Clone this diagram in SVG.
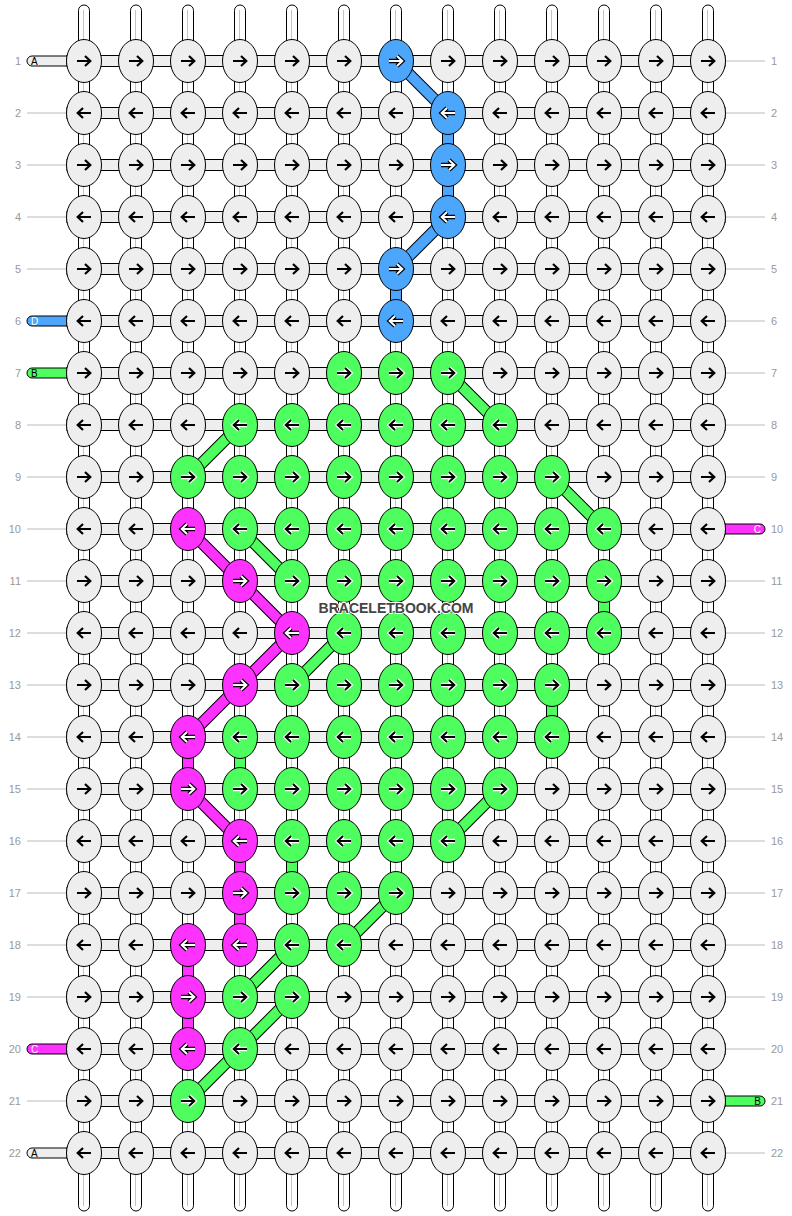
<svg xmlns="http://www.w3.org/2000/svg" xmlns:xlink="http://www.w3.org/1999/xlink" width="792" height="1216" viewBox="0 0 792 1216">
<style>
.vs{fill:#fff;stroke:#000;stroke-width:1}
.vl{stroke:#c4c4c4;stroke-width:1}
.hs{fill:#eee;stroke:#000;stroke-width:1}
ellipse{stroke:#000;stroke-width:1}
.g{fill:#eeeeee}.b{fill:#4ca6fb}.n{fill:#4efe5e}.m{fill:#fe32fe}
.num{font-family:"Liberation Sans",Arial,sans-serif;font-size:11px;fill:#999}
.lab{font-family:"Liberation Sans",Arial,sans-serif;font-size:10px}
.gl{stroke:#bbb;stroke-width:1}
.dk{stroke:#000;stroke-width:12;stroke-linecap:butt}
.wm{font-family:"Liberation Sans",Arial,sans-serif;font-weight:bold;font-size:15px;fill:#444;stroke:#fff;stroke-width:2;paint-order:stroke}
</style>
<defs>
<path id="ap" d="M-7,0H6M1,-5L6.3,0L1,5" fill="none"/>
<g id="Rk"><use href="#ap" stroke="#000" stroke-width="2.2"/></g>
<g id="Rw"><use href="#ap" stroke="#000" stroke-width="4.4"/><use href="#ap" stroke="#fff" stroke-width="2"/></g>
<g id="Rg"><use href="#ap" stroke="#fff" stroke-width="4.4"/><use href="#ap" stroke="#000" stroke-width="2"/></g>
<g id="Lk" transform="scale(-1,1)"><use href="#Rk"/></g>
<g id="Lw" transform="scale(-1,1)"><use href="#Rw"/></g>
<g id="Lg" transform="scale(-1,1)"><use href="#Rg"/></g>
</defs>
<rect width="792" height="1216" fill="#fff"/>
<g id="vertical-strands">
<rect class="vs" x="78.5" y="5" width="11" height="1206" rx="5.5"/><line class="vl" x1="83.5" y1="10" x2="83.5" y2="1206"/>
<rect class="vs" x="130.5" y="5" width="11" height="1206" rx="5.5"/><line class="vl" x1="135.5" y1="10" x2="135.5" y2="1206"/>
<rect class="vs" x="182.5" y="5" width="11" height="1206" rx="5.5"/><line class="vl" x1="187.5" y1="10" x2="187.5" y2="1206"/>
<rect class="vs" x="234.5" y="5" width="11" height="1206" rx="5.5"/><line class="vl" x1="239.5" y1="10" x2="239.5" y2="1206"/>
<rect class="vs" x="286.5" y="5" width="11" height="1206" rx="5.5"/><line class="vl" x1="291.5" y1="10" x2="291.5" y2="1206"/>
<rect class="vs" x="338.5" y="5" width="11" height="1206" rx="5.5"/><line class="vl" x1="343.5" y1="10" x2="343.5" y2="1206"/>
<rect class="vs" x="390.5" y="5" width="11" height="1206" rx="5.5"/><line class="vl" x1="395.5" y1="10" x2="395.5" y2="1206"/>
<rect class="vs" x="442.5" y="5" width="11" height="1206" rx="5.5"/><line class="vl" x1="447.5" y1="10" x2="447.5" y2="1206"/>
<rect class="vs" x="494.5" y="5" width="11" height="1206" rx="5.5"/><line class="vl" x1="499.5" y1="10" x2="499.5" y2="1206"/>
<rect class="vs" x="546.5" y="5" width="11" height="1206" rx="5.5"/><line class="vl" x1="551.5" y1="10" x2="551.5" y2="1206"/>
<rect class="vs" x="598.5" y="5" width="11" height="1206" rx="5.5"/><line class="vl" x1="603.5" y1="10" x2="603.5" y2="1206"/>
<rect class="vs" x="650.5" y="5" width="11" height="1206" rx="5.5"/><line class="vl" x1="655.5" y1="10" x2="655.5" y2="1206"/>
<rect class="vs" x="702.5" y="5" width="11" height="1206" rx="5.5"/><line class="vl" x1="707.5" y1="10" x2="707.5" y2="1206"/>
</g>
<g id="horizontal-strands">
<rect class="hs" x="67" y="55.5" width="658" height="11"/>
<rect class="hs" x="67" y="107.5" width="658" height="11"/>
<rect class="hs" x="67" y="159.5" width="658" height="11"/>
<rect class="hs" x="67" y="211.5" width="658" height="11"/>
<rect class="hs" x="67" y="263.5" width="658" height="11"/>
<rect class="hs" x="67" y="315.5" width="658" height="11"/>
<rect class="hs" x="67" y="367.5" width="658" height="11"/>
<rect class="hs" x="67" y="419.5" width="658" height="11"/>
<rect class="hs" x="67" y="471.5" width="658" height="11"/>
<rect class="hs" x="67" y="523.5" width="658" height="11"/>
<rect class="hs" x="67" y="575.5" width="658" height="11"/>
<rect class="hs" x="67" y="627.5" width="658" height="11"/>
<rect class="hs" x="67" y="679.5" width="658" height="11"/>
<rect class="hs" x="67" y="731.5" width="658" height="11"/>
<rect class="hs" x="67" y="783.5" width="658" height="11"/>
<rect class="hs" x="67" y="835.5" width="658" height="11"/>
<rect class="hs" x="67" y="887.5" width="658" height="11"/>
<rect class="hs" x="67" y="939.5" width="658" height="11"/>
<rect class="hs" x="67" y="991.5" width="658" height="11"/>
<rect class="hs" x="67" y="1043.5" width="658" height="11"/>
<rect class="hs" x="67" y="1095.5" width="658" height="11"/>
<rect class="hs" x="67" y="1147.5" width="658" height="11"/>
</g>
<g id="edges">
<path d="M67,56H32a5,5 0 0 0 0,10H67Z" fill="#eee" stroke="#000"/><text class="lab" x="31" y="65">A</text>
<line class="gl" x1="27" y1="113" x2="67" y2="113"/>
<line class="gl" x1="27" y1="165" x2="67" y2="165"/>
<line class="gl" x1="27" y1="217" x2="67" y2="217"/>
<line class="gl" x1="27" y1="269" x2="67" y2="269"/>
<path d="M67,316H32a5,5 0 0 0 0,10H67Z" fill="#4ca6fb" stroke="#000"/><text class="lab" x="31" y="325" fill="#fff">D</text>
<path d="M67,368H32a5,5 0 0 0 0,10H67Z" fill="#4efe5e" stroke="#000"/><text class="lab" x="31" y="377">B</text>
<line class="gl" x1="27" y1="425" x2="67" y2="425"/>
<line class="gl" x1="27" y1="477" x2="67" y2="477"/>
<line class="gl" x1="27" y1="529" x2="67" y2="529"/>
<line class="gl" x1="27" y1="581" x2="67" y2="581"/>
<line class="gl" x1="27" y1="633" x2="67" y2="633"/>
<line class="gl" x1="27" y1="685" x2="67" y2="685"/>
<line class="gl" x1="27" y1="737" x2="67" y2="737"/>
<line class="gl" x1="27" y1="789" x2="67" y2="789"/>
<line class="gl" x1="27" y1="841" x2="67" y2="841"/>
<line class="gl" x1="27" y1="893" x2="67" y2="893"/>
<line class="gl" x1="27" y1="945" x2="67" y2="945"/>
<line class="gl" x1="27" y1="997" x2="67" y2="997"/>
<path d="M67,1044H32a5,5 0 0 0 0,10H67Z" fill="#fe32fe" stroke="#000"/><text class="lab" x="31" y="1053" fill="#fff">C</text>
<line class="gl" x1="27" y1="1101" x2="67" y2="1101"/>
<path d="M67,1148H32a5,5 0 0 0 0,10H67Z" fill="#eee" stroke="#000"/><text class="lab" x="31" y="1157">A</text>
<line class="gl" x1="725" y1="61" x2="765" y2="61"/>
<line class="gl" x1="725" y1="113" x2="765" y2="113"/>
<line class="gl" x1="725" y1="165" x2="765" y2="165"/>
<line class="gl" x1="725" y1="217" x2="765" y2="217"/>
<line class="gl" x1="725" y1="269" x2="765" y2="269"/>
<line class="gl" x1="725" y1="321" x2="765" y2="321"/>
<line class="gl" x1="725" y1="373" x2="765" y2="373"/>
<line class="gl" x1="725" y1="425" x2="765" y2="425"/>
<line class="gl" x1="725" y1="477" x2="765" y2="477"/>
<path d="M725,524H760a5,5 0 0 1 0,10H725Z" fill="#fe32fe" stroke="#000"/><text class="lab" x="761" y="533" text-anchor="end" fill="#fff">C</text>
<line class="gl" x1="725" y1="581" x2="765" y2="581"/>
<line class="gl" x1="725" y1="633" x2="765" y2="633"/>
<line class="gl" x1="725" y1="685" x2="765" y2="685"/>
<line class="gl" x1="725" y1="737" x2="765" y2="737"/>
<line class="gl" x1="725" y1="789" x2="765" y2="789"/>
<line class="gl" x1="725" y1="841" x2="765" y2="841"/>
<line class="gl" x1="725" y1="893" x2="765" y2="893"/>
<line class="gl" x1="725" y1="945" x2="765" y2="945"/>
<line class="gl" x1="725" y1="997" x2="765" y2="997"/>
<line class="gl" x1="725" y1="1049" x2="765" y2="1049"/>
<path d="M725,1096H760a5,5 0 0 1 0,10H725Z" fill="#4efe5e" stroke="#000"/><text class="lab" x="761" y="1105" text-anchor="end">B</text>
<line class="gl" x1="725" y1="1153" x2="765" y2="1153"/>
</g>
<g id="row-numbers">
<text class="num" x="21" y="65" text-anchor="end">1</text><text class="num" x="771" y="65">1</text>
<text class="num" x="21" y="117" text-anchor="end">2</text><text class="num" x="771" y="117">2</text>
<text class="num" x="21" y="169" text-anchor="end">3</text><text class="num" x="771" y="169">3</text>
<text class="num" x="21" y="221" text-anchor="end">4</text><text class="num" x="771" y="221">4</text>
<text class="num" x="21" y="273" text-anchor="end">5</text><text class="num" x="771" y="273">5</text>
<text class="num" x="21" y="325" text-anchor="end">6</text><text class="num" x="771" y="325">6</text>
<text class="num" x="21" y="377" text-anchor="end">7</text><text class="num" x="771" y="377">7</text>
<text class="num" x="21" y="429" text-anchor="end">8</text><text class="num" x="771" y="429">8</text>
<text class="num" x="21" y="481" text-anchor="end">9</text><text class="num" x="771" y="481">9</text>
<text class="num" x="21" y="533" text-anchor="end">10</text><text class="num" x="771" y="533">10</text>
<text class="num" x="21" y="585" text-anchor="end">11</text><text class="num" x="771" y="585">11</text>
<text class="num" x="21" y="637" text-anchor="end">12</text><text class="num" x="771" y="637">12</text>
<text class="num" x="21" y="689" text-anchor="end">13</text><text class="num" x="771" y="689">13</text>
<text class="num" x="21" y="741" text-anchor="end">14</text><text class="num" x="771" y="741">14</text>
<text class="num" x="21" y="793" text-anchor="end">15</text><text class="num" x="771" y="793">15</text>
<text class="num" x="21" y="845" text-anchor="end">16</text><text class="num" x="771" y="845">16</text>
<text class="num" x="21" y="897" text-anchor="end">17</text><text class="num" x="771" y="897">17</text>
<text class="num" x="21" y="949" text-anchor="end">18</text><text class="num" x="771" y="949">18</text>
<text class="num" x="21" y="1001" text-anchor="end">19</text><text class="num" x="771" y="1001">19</text>
<text class="num" x="21" y="1053" text-anchor="end">20</text><text class="num" x="771" y="1053">20</text>
<text class="num" x="21" y="1105" text-anchor="end">21</text><text class="num" x="771" y="1105">21</text>
<text class="num" x="21" y="1157" text-anchor="end">22</text><text class="num" x="771" y="1157">22</text>
</g>
<g id="connectors">
<rect x="442.5" y="113" width="11" height="104" fill="#4ca6fb" stroke="#000"/>
<rect x="390.5" y="269" width="11" height="52" fill="#4ca6fb" stroke="#000"/>
<rect x="598.5" y="581" width="11" height="52" fill="#4efe5e" stroke="#000"/>
<rect x="546.5" y="685" width="11" height="52" fill="#4efe5e" stroke="#000"/>
<rect x="234.5" y="737" width="11" height="52" fill="#4efe5e" stroke="#000"/>
<rect x="286.5" y="841" width="11" height="52" fill="#4efe5e" stroke="#000"/>
<rect x="182.5" y="737" width="11" height="52" fill="#fe32fe" stroke="#000"/>
<rect x="234.5" y="841" width="11" height="104" fill="#fe32fe" stroke="#000"/>
<rect x="182.5" y="945" width="11" height="104" fill="#fe32fe" stroke="#000"/>
<g class="dk">
<line x1="396" y1="61" x2="448" y2="113"/><line x1="448" y1="217" x2="396" y2="269"/>
<line x1="448" y1="373" x2="500" y2="425"/><line x1="240" y1="425" x2="188" y2="477"/><line x1="552" y1="477" x2="604" y2="529"/><line x1="240" y1="529" x2="292" y2="581"/><line x1="344" y1="633" x2="292" y2="685"/><line x1="500" y1="789" x2="448" y2="841"/><line x1="396" y1="893" x2="344" y2="945"/><line x1="292" y1="945" x2="240" y2="997"/><line x1="292" y1="997" x2="240" y2="1049"/><line x1="240" y1="1049" x2="188" y2="1101"/>
<line x1="188" y1="529" x2="240" y2="581"/><line x1="240" y1="581" x2="292" y2="633"/><line x1="292" y1="633" x2="240" y2="685"/><line x1="240" y1="685" x2="188" y2="737"/><line x1="188" y1="789" x2="240" y2="841"/>
</g>
<g stroke-width="10" stroke="#4ca6fb">
<line x1="396" y1="61" x2="448" y2="113"/><line x1="448" y1="217" x2="396" y2="269"/>
</g>
<g stroke-width="10" stroke="#4efe5e">
<line x1="448" y1="373" x2="500" y2="425"/><line x1="240" y1="425" x2="188" y2="477"/><line x1="552" y1="477" x2="604" y2="529"/><line x1="240" y1="529" x2="292" y2="581"/><line x1="344" y1="633" x2="292" y2="685"/><line x1="500" y1="789" x2="448" y2="841"/><line x1="396" y1="893" x2="344" y2="945"/><line x1="292" y1="945" x2="240" y2="997"/><line x1="292" y1="997" x2="240" y2="1049"/><line x1="240" y1="1049" x2="188" y2="1101"/>
</g>
<g stroke-width="10" stroke="#fe32fe">
<line x1="188" y1="529" x2="240" y2="581"/><line x1="240" y1="581" x2="292" y2="633"/><line x1="292" y1="633" x2="240" y2="685"/><line x1="240" y1="685" x2="188" y2="737"/><line x1="188" y1="789" x2="240" y2="841"/>
</g>
</g>
<g id="nodes">
<g id="n1-1" transform="translate(84,61)"><ellipse rx="17.5" ry="21.5" class="g"/><use href="#Rk"/></g>
<g id="n1-2" transform="translate(136,61)"><ellipse rx="17.5" ry="21.5" class="g"/><use href="#Rk"/></g>
<g id="n1-3" transform="translate(188,61)"><ellipse rx="17.5" ry="21.5" class="g"/><use href="#Rk"/></g>
<g id="n1-4" transform="translate(240,61)"><ellipse rx="17.5" ry="21.5" class="g"/><use href="#Rk"/></g>
<g id="n1-5" transform="translate(292,61)"><ellipse rx="17.5" ry="21.5" class="g"/><use href="#Rk"/></g>
<g id="n1-6" transform="translate(344,61)"><ellipse rx="17.5" ry="21.5" class="g"/><use href="#Rk"/></g>
<g id="n1-7" transform="translate(396,61)"><ellipse rx="17.5" ry="21.5" class="b"/><use href="#Rw"/></g>
<g id="n1-8" transform="translate(448,61)"><ellipse rx="17.5" ry="21.5" class="g"/><use href="#Rk"/></g>
<g id="n1-9" transform="translate(500,61)"><ellipse rx="17.5" ry="21.5" class="g"/><use href="#Rk"/></g>
<g id="n1-10" transform="translate(552,61)"><ellipse rx="17.5" ry="21.5" class="g"/><use href="#Rk"/></g>
<g id="n1-11" transform="translate(604,61)"><ellipse rx="17.5" ry="21.5" class="g"/><use href="#Rk"/></g>
<g id="n1-12" transform="translate(656,61)"><ellipse rx="17.5" ry="21.5" class="g"/><use href="#Rk"/></g>
<g id="n1-13" transform="translate(708,61)"><ellipse rx="17.5" ry="21.5" class="g"/><use href="#Rk"/></g>
<g id="n2-1" transform="translate(84,113)"><ellipse rx="17.5" ry="21.5" class="g"/><use href="#Lk"/></g>
<g id="n2-2" transform="translate(136,113)"><ellipse rx="17.5" ry="21.5" class="g"/><use href="#Lk"/></g>
<g id="n2-3" transform="translate(188,113)"><ellipse rx="17.5" ry="21.5" class="g"/><use href="#Lk"/></g>
<g id="n2-4" transform="translate(240,113)"><ellipse rx="17.5" ry="21.5" class="g"/><use href="#Lk"/></g>
<g id="n2-5" transform="translate(292,113)"><ellipse rx="17.5" ry="21.5" class="g"/><use href="#Lk"/></g>
<g id="n2-6" transform="translate(344,113)"><ellipse rx="17.5" ry="21.5" class="g"/><use href="#Lk"/></g>
<g id="n2-7" transform="translate(396,113)"><ellipse rx="17.5" ry="21.5" class="g"/><use href="#Lk"/></g>
<g id="n2-8" transform="translate(448,113)"><ellipse rx="17.5" ry="21.5" class="b"/><use href="#Lw"/></g>
<g id="n2-9" transform="translate(500,113)"><ellipse rx="17.5" ry="21.5" class="g"/><use href="#Lk"/></g>
<g id="n2-10" transform="translate(552,113)"><ellipse rx="17.5" ry="21.5" class="g"/><use href="#Lk"/></g>
<g id="n2-11" transform="translate(604,113)"><ellipse rx="17.5" ry="21.5" class="g"/><use href="#Lk"/></g>
<g id="n2-12" transform="translate(656,113)"><ellipse rx="17.5" ry="21.5" class="g"/><use href="#Lk"/></g>
<g id="n2-13" transform="translate(708,113)"><ellipse rx="17.5" ry="21.5" class="g"/><use href="#Lk"/></g>
<g id="n3-1" transform="translate(84,165)"><ellipse rx="17.5" ry="21.5" class="g"/><use href="#Rk"/></g>
<g id="n3-2" transform="translate(136,165)"><ellipse rx="17.5" ry="21.5" class="g"/><use href="#Rk"/></g>
<g id="n3-3" transform="translate(188,165)"><ellipse rx="17.5" ry="21.5" class="g"/><use href="#Rk"/></g>
<g id="n3-4" transform="translate(240,165)"><ellipse rx="17.5" ry="21.5" class="g"/><use href="#Rk"/></g>
<g id="n3-5" transform="translate(292,165)"><ellipse rx="17.5" ry="21.5" class="g"/><use href="#Rk"/></g>
<g id="n3-6" transform="translate(344,165)"><ellipse rx="17.5" ry="21.5" class="g"/><use href="#Rk"/></g>
<g id="n3-7" transform="translate(396,165)"><ellipse rx="17.5" ry="21.5" class="g"/><use href="#Rk"/></g>
<g id="n3-8" transform="translate(448,165)"><ellipse rx="17.5" ry="21.5" class="b"/><use href="#Rw"/></g>
<g id="n3-9" transform="translate(500,165)"><ellipse rx="17.5" ry="21.5" class="g"/><use href="#Rk"/></g>
<g id="n3-10" transform="translate(552,165)"><ellipse rx="17.5" ry="21.5" class="g"/><use href="#Rk"/></g>
<g id="n3-11" transform="translate(604,165)"><ellipse rx="17.5" ry="21.5" class="g"/><use href="#Rk"/></g>
<g id="n3-12" transform="translate(656,165)"><ellipse rx="17.5" ry="21.5" class="g"/><use href="#Rk"/></g>
<g id="n3-13" transform="translate(708,165)"><ellipse rx="17.5" ry="21.5" class="g"/><use href="#Rk"/></g>
<g id="n4-1" transform="translate(84,217)"><ellipse rx="17.5" ry="21.5" class="g"/><use href="#Lk"/></g>
<g id="n4-2" transform="translate(136,217)"><ellipse rx="17.5" ry="21.5" class="g"/><use href="#Lk"/></g>
<g id="n4-3" transform="translate(188,217)"><ellipse rx="17.5" ry="21.5" class="g"/><use href="#Lk"/></g>
<g id="n4-4" transform="translate(240,217)"><ellipse rx="17.5" ry="21.5" class="g"/><use href="#Lk"/></g>
<g id="n4-5" transform="translate(292,217)"><ellipse rx="17.5" ry="21.5" class="g"/><use href="#Lk"/></g>
<g id="n4-6" transform="translate(344,217)"><ellipse rx="17.5" ry="21.5" class="g"/><use href="#Lk"/></g>
<g id="n4-7" transform="translate(396,217)"><ellipse rx="17.5" ry="21.5" class="g"/><use href="#Lk"/></g>
<g id="n4-8" transform="translate(448,217)"><ellipse rx="17.5" ry="21.5" class="b"/><use href="#Lw"/></g>
<g id="n4-9" transform="translate(500,217)"><ellipse rx="17.5" ry="21.5" class="g"/><use href="#Lk"/></g>
<g id="n4-10" transform="translate(552,217)"><ellipse rx="17.5" ry="21.5" class="g"/><use href="#Lk"/></g>
<g id="n4-11" transform="translate(604,217)"><ellipse rx="17.5" ry="21.5" class="g"/><use href="#Lk"/></g>
<g id="n4-12" transform="translate(656,217)"><ellipse rx="17.5" ry="21.5" class="g"/><use href="#Lk"/></g>
<g id="n4-13" transform="translate(708,217)"><ellipse rx="17.5" ry="21.5" class="g"/><use href="#Lk"/></g>
<g id="n5-1" transform="translate(84,269)"><ellipse rx="17.5" ry="21.5" class="g"/><use href="#Rk"/></g>
<g id="n5-2" transform="translate(136,269)"><ellipse rx="17.5" ry="21.5" class="g"/><use href="#Rk"/></g>
<g id="n5-3" transform="translate(188,269)"><ellipse rx="17.5" ry="21.5" class="g"/><use href="#Rk"/></g>
<g id="n5-4" transform="translate(240,269)"><ellipse rx="17.5" ry="21.5" class="g"/><use href="#Rk"/></g>
<g id="n5-5" transform="translate(292,269)"><ellipse rx="17.5" ry="21.5" class="g"/><use href="#Rk"/></g>
<g id="n5-6" transform="translate(344,269)"><ellipse rx="17.5" ry="21.5" class="g"/><use href="#Rk"/></g>
<g id="n5-7" transform="translate(396,269)"><ellipse rx="17.5" ry="21.5" class="b"/><use href="#Rw"/></g>
<g id="n5-8" transform="translate(448,269)"><ellipse rx="17.5" ry="21.5" class="g"/><use href="#Rk"/></g>
<g id="n5-9" transform="translate(500,269)"><ellipse rx="17.5" ry="21.5" class="g"/><use href="#Rk"/></g>
<g id="n5-10" transform="translate(552,269)"><ellipse rx="17.5" ry="21.5" class="g"/><use href="#Rk"/></g>
<g id="n5-11" transform="translate(604,269)"><ellipse rx="17.5" ry="21.5" class="g"/><use href="#Rk"/></g>
<g id="n5-12" transform="translate(656,269)"><ellipse rx="17.5" ry="21.5" class="g"/><use href="#Rk"/></g>
<g id="n5-13" transform="translate(708,269)"><ellipse rx="17.5" ry="21.5" class="g"/><use href="#Rk"/></g>
<g id="n6-1" transform="translate(84,321)"><ellipse rx="17.5" ry="21.5" class="g"/><use href="#Lk"/></g>
<g id="n6-2" transform="translate(136,321)"><ellipse rx="17.5" ry="21.5" class="g"/><use href="#Lk"/></g>
<g id="n6-3" transform="translate(188,321)"><ellipse rx="17.5" ry="21.5" class="g"/><use href="#Lk"/></g>
<g id="n6-4" transform="translate(240,321)"><ellipse rx="17.5" ry="21.5" class="g"/><use href="#Lk"/></g>
<g id="n6-5" transform="translate(292,321)"><ellipse rx="17.5" ry="21.5" class="g"/><use href="#Lk"/></g>
<g id="n6-6" transform="translate(344,321)"><ellipse rx="17.5" ry="21.5" class="g"/><use href="#Lk"/></g>
<g id="n6-7" transform="translate(396,321)"><ellipse rx="17.5" ry="21.5" class="b"/><use href="#Lw"/></g>
<g id="n6-8" transform="translate(448,321)"><ellipse rx="17.5" ry="21.5" class="g"/><use href="#Lk"/></g>
<g id="n6-9" transform="translate(500,321)"><ellipse rx="17.5" ry="21.5" class="g"/><use href="#Lk"/></g>
<g id="n6-10" transform="translate(552,321)"><ellipse rx="17.5" ry="21.5" class="g"/><use href="#Lk"/></g>
<g id="n6-11" transform="translate(604,321)"><ellipse rx="17.5" ry="21.5" class="g"/><use href="#Lk"/></g>
<g id="n6-12" transform="translate(656,321)"><ellipse rx="17.5" ry="21.5" class="g"/><use href="#Lk"/></g>
<g id="n6-13" transform="translate(708,321)"><ellipse rx="17.5" ry="21.5" class="g"/><use href="#Lk"/></g>
<g id="n7-1" transform="translate(84,373)"><ellipse rx="17.5" ry="21.5" class="g"/><use href="#Rk"/></g>
<g id="n7-2" transform="translate(136,373)"><ellipse rx="17.5" ry="21.5" class="g"/><use href="#Rk"/></g>
<g id="n7-3" transform="translate(188,373)"><ellipse rx="17.5" ry="21.5" class="g"/><use href="#Rk"/></g>
<g id="n7-4" transform="translate(240,373)"><ellipse rx="17.5" ry="21.5" class="g"/><use href="#Rk"/></g>
<g id="n7-5" transform="translate(292,373)"><ellipse rx="17.5" ry="21.5" class="g"/><use href="#Rk"/></g>
<g id="n7-6" transform="translate(344,373)"><ellipse rx="17.5" ry="21.5" class="n"/><use href="#Rg"/></g>
<g id="n7-7" transform="translate(396,373)"><ellipse rx="17.5" ry="21.5" class="n"/><use href="#Rg"/></g>
<g id="n7-8" transform="translate(448,373)"><ellipse rx="17.5" ry="21.5" class="n"/><use href="#Rg"/></g>
<g id="n7-9" transform="translate(500,373)"><ellipse rx="17.5" ry="21.5" class="g"/><use href="#Rk"/></g>
<g id="n7-10" transform="translate(552,373)"><ellipse rx="17.5" ry="21.5" class="g"/><use href="#Rk"/></g>
<g id="n7-11" transform="translate(604,373)"><ellipse rx="17.5" ry="21.5" class="g"/><use href="#Rk"/></g>
<g id="n7-12" transform="translate(656,373)"><ellipse rx="17.5" ry="21.5" class="g"/><use href="#Rk"/></g>
<g id="n7-13" transform="translate(708,373)"><ellipse rx="17.5" ry="21.5" class="g"/><use href="#Rk"/></g>
<g id="n8-1" transform="translate(84,425)"><ellipse rx="17.5" ry="21.5" class="g"/><use href="#Lk"/></g>
<g id="n8-2" transform="translate(136,425)"><ellipse rx="17.5" ry="21.5" class="g"/><use href="#Lk"/></g>
<g id="n8-3" transform="translate(188,425)"><ellipse rx="17.5" ry="21.5" class="g"/><use href="#Lk"/></g>
<g id="n8-4" transform="translate(240,425)"><ellipse rx="17.5" ry="21.5" class="n"/><use href="#Lg"/></g>
<g id="n8-5" transform="translate(292,425)"><ellipse rx="17.5" ry="21.5" class="n"/><use href="#Lg"/></g>
<g id="n8-6" transform="translate(344,425)"><ellipse rx="17.5" ry="21.5" class="n"/><use href="#Lg"/></g>
<g id="n8-7" transform="translate(396,425)"><ellipse rx="17.5" ry="21.5" class="n"/><use href="#Lg"/></g>
<g id="n8-8" transform="translate(448,425)"><ellipse rx="17.5" ry="21.5" class="n"/><use href="#Lg"/></g>
<g id="n8-9" transform="translate(500,425)"><ellipse rx="17.5" ry="21.5" class="n"/><use href="#Lg"/></g>
<g id="n8-10" transform="translate(552,425)"><ellipse rx="17.5" ry="21.5" class="g"/><use href="#Lk"/></g>
<g id="n8-11" transform="translate(604,425)"><ellipse rx="17.5" ry="21.5" class="g"/><use href="#Lk"/></g>
<g id="n8-12" transform="translate(656,425)"><ellipse rx="17.5" ry="21.5" class="g"/><use href="#Lk"/></g>
<g id="n8-13" transform="translate(708,425)"><ellipse rx="17.5" ry="21.5" class="g"/><use href="#Lk"/></g>
<g id="n9-1" transform="translate(84,477)"><ellipse rx="17.5" ry="21.5" class="g"/><use href="#Rk"/></g>
<g id="n9-2" transform="translate(136,477)"><ellipse rx="17.5" ry="21.5" class="g"/><use href="#Rk"/></g>
<g id="n9-3" transform="translate(188,477)"><ellipse rx="17.5" ry="21.5" class="n"/><use href="#Rg"/></g>
<g id="n9-4" transform="translate(240,477)"><ellipse rx="17.5" ry="21.5" class="n"/><use href="#Rg"/></g>
<g id="n9-5" transform="translate(292,477)"><ellipse rx="17.5" ry="21.5" class="n"/><use href="#Rg"/></g>
<g id="n9-6" transform="translate(344,477)"><ellipse rx="17.5" ry="21.5" class="n"/><use href="#Rg"/></g>
<g id="n9-7" transform="translate(396,477)"><ellipse rx="17.5" ry="21.5" class="n"/><use href="#Rg"/></g>
<g id="n9-8" transform="translate(448,477)"><ellipse rx="17.5" ry="21.5" class="n"/><use href="#Rg"/></g>
<g id="n9-9" transform="translate(500,477)"><ellipse rx="17.5" ry="21.5" class="n"/><use href="#Rg"/></g>
<g id="n9-10" transform="translate(552,477)"><ellipse rx="17.5" ry="21.5" class="n"/><use href="#Rg"/></g>
<g id="n9-11" transform="translate(604,477)"><ellipse rx="17.5" ry="21.5" class="g"/><use href="#Rk"/></g>
<g id="n9-12" transform="translate(656,477)"><ellipse rx="17.5" ry="21.5" class="g"/><use href="#Rk"/></g>
<g id="n9-13" transform="translate(708,477)"><ellipse rx="17.5" ry="21.5" class="g"/><use href="#Rk"/></g>
<g id="n10-1" transform="translate(84,529)"><ellipse rx="17.5" ry="21.5" class="g"/><use href="#Lk"/></g>
<g id="n10-2" transform="translate(136,529)"><ellipse rx="17.5" ry="21.5" class="g"/><use href="#Lk"/></g>
<g id="n10-3" transform="translate(188,529)"><ellipse rx="17.5" ry="21.5" class="m"/><use href="#Lw"/></g>
<g id="n10-4" transform="translate(240,529)"><ellipse rx="17.5" ry="21.5" class="n"/><use href="#Lg"/></g>
<g id="n10-5" transform="translate(292,529)"><ellipse rx="17.5" ry="21.5" class="n"/><use href="#Lg"/></g>
<g id="n10-6" transform="translate(344,529)"><ellipse rx="17.5" ry="21.5" class="n"/><use href="#Lg"/></g>
<g id="n10-7" transform="translate(396,529)"><ellipse rx="17.5" ry="21.5" class="n"/><use href="#Lg"/></g>
<g id="n10-8" transform="translate(448,529)"><ellipse rx="17.5" ry="21.5" class="n"/><use href="#Lg"/></g>
<g id="n10-9" transform="translate(500,529)"><ellipse rx="17.5" ry="21.5" class="n"/><use href="#Lg"/></g>
<g id="n10-10" transform="translate(552,529)"><ellipse rx="17.5" ry="21.5" class="n"/><use href="#Lg"/></g>
<g id="n10-11" transform="translate(604,529)"><ellipse rx="17.5" ry="21.5" class="n"/><use href="#Lg"/></g>
<g id="n10-12" transform="translate(656,529)"><ellipse rx="17.5" ry="21.5" class="g"/><use href="#Lk"/></g>
<g id="n10-13" transform="translate(708,529)"><ellipse rx="17.5" ry="21.5" class="g"/><use href="#Lk"/></g>
<g id="n11-1" transform="translate(84,581)"><ellipse rx="17.5" ry="21.5" class="g"/><use href="#Rk"/></g>
<g id="n11-2" transform="translate(136,581)"><ellipse rx="17.5" ry="21.5" class="g"/><use href="#Rk"/></g>
<g id="n11-3" transform="translate(188,581)"><ellipse rx="17.5" ry="21.5" class="g"/><use href="#Rk"/></g>
<g id="n11-4" transform="translate(240,581)"><ellipse rx="17.5" ry="21.5" class="m"/><use href="#Rw"/></g>
<g id="n11-5" transform="translate(292,581)"><ellipse rx="17.5" ry="21.5" class="n"/><use href="#Rg"/></g>
<g id="n11-6" transform="translate(344,581)"><ellipse rx="17.5" ry="21.5" class="n"/><use href="#Rg"/></g>
<g id="n11-7" transform="translate(396,581)"><ellipse rx="17.5" ry="21.5" class="n"/><use href="#Rg"/></g>
<g id="n11-8" transform="translate(448,581)"><ellipse rx="17.5" ry="21.5" class="n"/><use href="#Rg"/></g>
<g id="n11-9" transform="translate(500,581)"><ellipse rx="17.5" ry="21.5" class="n"/><use href="#Rg"/></g>
<g id="n11-10" transform="translate(552,581)"><ellipse rx="17.5" ry="21.5" class="n"/><use href="#Rg"/></g>
<g id="n11-11" transform="translate(604,581)"><ellipse rx="17.5" ry="21.5" class="n"/><use href="#Rg"/></g>
<g id="n11-12" transform="translate(656,581)"><ellipse rx="17.5" ry="21.5" class="g"/><use href="#Rk"/></g>
<g id="n11-13" transform="translate(708,581)"><ellipse rx="17.5" ry="21.5" class="g"/><use href="#Rk"/></g>
<g id="n12-1" transform="translate(84,633)"><ellipse rx="17.5" ry="21.5" class="g"/><use href="#Lk"/></g>
<g id="n12-2" transform="translate(136,633)"><ellipse rx="17.5" ry="21.5" class="g"/><use href="#Lk"/></g>
<g id="n12-3" transform="translate(188,633)"><ellipse rx="17.5" ry="21.5" class="g"/><use href="#Lk"/></g>
<g id="n12-4" transform="translate(240,633)"><ellipse rx="17.5" ry="21.5" class="g"/><use href="#Lk"/></g>
<g id="n12-5" transform="translate(292,633)"><ellipse rx="17.5" ry="21.5" class="m"/><use href="#Lw"/></g>
<g id="n12-6" transform="translate(344,633)"><ellipse rx="17.5" ry="21.5" class="n"/><use href="#Lg"/></g>
<g id="n12-7" transform="translate(396,633)"><ellipse rx="17.5" ry="21.5" class="n"/><use href="#Lg"/></g>
<g id="n12-8" transform="translate(448,633)"><ellipse rx="17.5" ry="21.5" class="n"/><use href="#Lg"/></g>
<g id="n12-9" transform="translate(500,633)"><ellipse rx="17.5" ry="21.5" class="n"/><use href="#Lg"/></g>
<g id="n12-10" transform="translate(552,633)"><ellipse rx="17.5" ry="21.5" class="n"/><use href="#Lg"/></g>
<g id="n12-11" transform="translate(604,633)"><ellipse rx="17.5" ry="21.5" class="n"/><use href="#Lg"/></g>
<g id="n12-12" transform="translate(656,633)"><ellipse rx="17.5" ry="21.5" class="g"/><use href="#Lk"/></g>
<g id="n12-13" transform="translate(708,633)"><ellipse rx="17.5" ry="21.5" class="g"/><use href="#Lk"/></g>
<g id="n13-1" transform="translate(84,685)"><ellipse rx="17.5" ry="21.5" class="g"/><use href="#Rk"/></g>
<g id="n13-2" transform="translate(136,685)"><ellipse rx="17.5" ry="21.5" class="g"/><use href="#Rk"/></g>
<g id="n13-3" transform="translate(188,685)"><ellipse rx="17.5" ry="21.5" class="g"/><use href="#Rk"/></g>
<g id="n13-4" transform="translate(240,685)"><ellipse rx="17.5" ry="21.5" class="m"/><use href="#Rw"/></g>
<g id="n13-5" transform="translate(292,685)"><ellipse rx="17.5" ry="21.5" class="n"/><use href="#Rg"/></g>
<g id="n13-6" transform="translate(344,685)"><ellipse rx="17.5" ry="21.5" class="n"/><use href="#Rg"/></g>
<g id="n13-7" transform="translate(396,685)"><ellipse rx="17.5" ry="21.5" class="n"/><use href="#Rg"/></g>
<g id="n13-8" transform="translate(448,685)"><ellipse rx="17.5" ry="21.5" class="n"/><use href="#Rg"/></g>
<g id="n13-9" transform="translate(500,685)"><ellipse rx="17.5" ry="21.5" class="n"/><use href="#Rg"/></g>
<g id="n13-10" transform="translate(552,685)"><ellipse rx="17.5" ry="21.5" class="n"/><use href="#Rg"/></g>
<g id="n13-11" transform="translate(604,685)"><ellipse rx="17.5" ry="21.5" class="g"/><use href="#Rk"/></g>
<g id="n13-12" transform="translate(656,685)"><ellipse rx="17.5" ry="21.5" class="g"/><use href="#Rk"/></g>
<g id="n13-13" transform="translate(708,685)"><ellipse rx="17.5" ry="21.5" class="g"/><use href="#Rk"/></g>
<g id="n14-1" transform="translate(84,737)"><ellipse rx="17.5" ry="21.5" class="g"/><use href="#Lk"/></g>
<g id="n14-2" transform="translate(136,737)"><ellipse rx="17.5" ry="21.5" class="g"/><use href="#Lk"/></g>
<g id="n14-3" transform="translate(188,737)"><ellipse rx="17.5" ry="21.5" class="m"/><use href="#Lw"/></g>
<g id="n14-4" transform="translate(240,737)"><ellipse rx="17.5" ry="21.5" class="n"/><use href="#Lg"/></g>
<g id="n14-5" transform="translate(292,737)"><ellipse rx="17.5" ry="21.5" class="n"/><use href="#Lg"/></g>
<g id="n14-6" transform="translate(344,737)"><ellipse rx="17.5" ry="21.5" class="n"/><use href="#Lg"/></g>
<g id="n14-7" transform="translate(396,737)"><ellipse rx="17.5" ry="21.5" class="n"/><use href="#Lg"/></g>
<g id="n14-8" transform="translate(448,737)"><ellipse rx="17.5" ry="21.5" class="n"/><use href="#Lg"/></g>
<g id="n14-9" transform="translate(500,737)"><ellipse rx="17.5" ry="21.5" class="n"/><use href="#Lg"/></g>
<g id="n14-10" transform="translate(552,737)"><ellipse rx="17.5" ry="21.5" class="n"/><use href="#Lg"/></g>
<g id="n14-11" transform="translate(604,737)"><ellipse rx="17.5" ry="21.5" class="g"/><use href="#Lk"/></g>
<g id="n14-12" transform="translate(656,737)"><ellipse rx="17.5" ry="21.5" class="g"/><use href="#Lk"/></g>
<g id="n14-13" transform="translate(708,737)"><ellipse rx="17.5" ry="21.5" class="g"/><use href="#Lk"/></g>
<g id="n15-1" transform="translate(84,789)"><ellipse rx="17.5" ry="21.5" class="g"/><use href="#Rk"/></g>
<g id="n15-2" transform="translate(136,789)"><ellipse rx="17.5" ry="21.5" class="g"/><use href="#Rk"/></g>
<g id="n15-3" transform="translate(188,789)"><ellipse rx="17.5" ry="21.5" class="m"/><use href="#Rw"/></g>
<g id="n15-4" transform="translate(240,789)"><ellipse rx="17.5" ry="21.5" class="n"/><use href="#Rg"/></g>
<g id="n15-5" transform="translate(292,789)"><ellipse rx="17.5" ry="21.5" class="n"/><use href="#Rg"/></g>
<g id="n15-6" transform="translate(344,789)"><ellipse rx="17.5" ry="21.5" class="n"/><use href="#Rg"/></g>
<g id="n15-7" transform="translate(396,789)"><ellipse rx="17.5" ry="21.5" class="n"/><use href="#Rg"/></g>
<g id="n15-8" transform="translate(448,789)"><ellipse rx="17.5" ry="21.5" class="n"/><use href="#Rg"/></g>
<g id="n15-9" transform="translate(500,789)"><ellipse rx="17.5" ry="21.5" class="n"/><use href="#Rg"/></g>
<g id="n15-10" transform="translate(552,789)"><ellipse rx="17.5" ry="21.5" class="g"/><use href="#Rk"/></g>
<g id="n15-11" transform="translate(604,789)"><ellipse rx="17.5" ry="21.5" class="g"/><use href="#Rk"/></g>
<g id="n15-12" transform="translate(656,789)"><ellipse rx="17.5" ry="21.5" class="g"/><use href="#Rk"/></g>
<g id="n15-13" transform="translate(708,789)"><ellipse rx="17.5" ry="21.5" class="g"/><use href="#Rk"/></g>
<g id="n16-1" transform="translate(84,841)"><ellipse rx="17.5" ry="21.5" class="g"/><use href="#Lk"/></g>
<g id="n16-2" transform="translate(136,841)"><ellipse rx="17.5" ry="21.5" class="g"/><use href="#Lk"/></g>
<g id="n16-3" transform="translate(188,841)"><ellipse rx="17.5" ry="21.5" class="g"/><use href="#Lk"/></g>
<g id="n16-4" transform="translate(240,841)"><ellipse rx="17.5" ry="21.5" class="m"/><use href="#Lw"/></g>
<g id="n16-5" transform="translate(292,841)"><ellipse rx="17.5" ry="21.5" class="n"/><use href="#Lg"/></g>
<g id="n16-6" transform="translate(344,841)"><ellipse rx="17.5" ry="21.5" class="n"/><use href="#Lg"/></g>
<g id="n16-7" transform="translate(396,841)"><ellipse rx="17.5" ry="21.5" class="n"/><use href="#Lg"/></g>
<g id="n16-8" transform="translate(448,841)"><ellipse rx="17.5" ry="21.5" class="n"/><use href="#Lg"/></g>
<g id="n16-9" transform="translate(500,841)"><ellipse rx="17.5" ry="21.5" class="g"/><use href="#Lk"/></g>
<g id="n16-10" transform="translate(552,841)"><ellipse rx="17.5" ry="21.5" class="g"/><use href="#Lk"/></g>
<g id="n16-11" transform="translate(604,841)"><ellipse rx="17.5" ry="21.5" class="g"/><use href="#Lk"/></g>
<g id="n16-12" transform="translate(656,841)"><ellipse rx="17.5" ry="21.5" class="g"/><use href="#Lk"/></g>
<g id="n16-13" transform="translate(708,841)"><ellipse rx="17.5" ry="21.5" class="g"/><use href="#Lk"/></g>
<g id="n17-1" transform="translate(84,893)"><ellipse rx="17.5" ry="21.5" class="g"/><use href="#Rk"/></g>
<g id="n17-2" transform="translate(136,893)"><ellipse rx="17.5" ry="21.5" class="g"/><use href="#Rk"/></g>
<g id="n17-3" transform="translate(188,893)"><ellipse rx="17.5" ry="21.5" class="g"/><use href="#Rk"/></g>
<g id="n17-4" transform="translate(240,893)"><ellipse rx="17.5" ry="21.5" class="m"/><use href="#Rw"/></g>
<g id="n17-5" transform="translate(292,893)"><ellipse rx="17.5" ry="21.5" class="n"/><use href="#Rg"/></g>
<g id="n17-6" transform="translate(344,893)"><ellipse rx="17.5" ry="21.5" class="n"/><use href="#Rg"/></g>
<g id="n17-7" transform="translate(396,893)"><ellipse rx="17.5" ry="21.5" class="n"/><use href="#Rg"/></g>
<g id="n17-8" transform="translate(448,893)"><ellipse rx="17.5" ry="21.5" class="g"/><use href="#Rk"/></g>
<g id="n17-9" transform="translate(500,893)"><ellipse rx="17.5" ry="21.5" class="g"/><use href="#Rk"/></g>
<g id="n17-10" transform="translate(552,893)"><ellipse rx="17.5" ry="21.5" class="g"/><use href="#Rk"/></g>
<g id="n17-11" transform="translate(604,893)"><ellipse rx="17.5" ry="21.5" class="g"/><use href="#Rk"/></g>
<g id="n17-12" transform="translate(656,893)"><ellipse rx="17.5" ry="21.5" class="g"/><use href="#Rk"/></g>
<g id="n17-13" transform="translate(708,893)"><ellipse rx="17.5" ry="21.5" class="g"/><use href="#Rk"/></g>
<g id="n18-1" transform="translate(84,945)"><ellipse rx="17.5" ry="21.5" class="g"/><use href="#Lk"/></g>
<g id="n18-2" transform="translate(136,945)"><ellipse rx="17.5" ry="21.5" class="g"/><use href="#Lk"/></g>
<g id="n18-3" transform="translate(188,945)"><ellipse rx="17.5" ry="21.5" class="m"/><use href="#Lw"/></g>
<g id="n18-4" transform="translate(240,945)"><ellipse rx="17.5" ry="21.5" class="m"/><use href="#Lw"/></g>
<g id="n18-5" transform="translate(292,945)"><ellipse rx="17.5" ry="21.5" class="n"/><use href="#Lg"/></g>
<g id="n18-6" transform="translate(344,945)"><ellipse rx="17.5" ry="21.5" class="n"/><use href="#Lg"/></g>
<g id="n18-7" transform="translate(396,945)"><ellipse rx="17.5" ry="21.5" class="g"/><use href="#Lk"/></g>
<g id="n18-8" transform="translate(448,945)"><ellipse rx="17.5" ry="21.5" class="g"/><use href="#Lk"/></g>
<g id="n18-9" transform="translate(500,945)"><ellipse rx="17.5" ry="21.5" class="g"/><use href="#Lk"/></g>
<g id="n18-10" transform="translate(552,945)"><ellipse rx="17.5" ry="21.5" class="g"/><use href="#Lk"/></g>
<g id="n18-11" transform="translate(604,945)"><ellipse rx="17.5" ry="21.5" class="g"/><use href="#Lk"/></g>
<g id="n18-12" transform="translate(656,945)"><ellipse rx="17.5" ry="21.5" class="g"/><use href="#Lk"/></g>
<g id="n18-13" transform="translate(708,945)"><ellipse rx="17.5" ry="21.5" class="g"/><use href="#Lk"/></g>
<g id="n19-1" transform="translate(84,997)"><ellipse rx="17.5" ry="21.5" class="g"/><use href="#Rk"/></g>
<g id="n19-2" transform="translate(136,997)"><ellipse rx="17.5" ry="21.5" class="g"/><use href="#Rk"/></g>
<g id="n19-3" transform="translate(188,997)"><ellipse rx="17.5" ry="21.5" class="m"/><use href="#Rw"/></g>
<g id="n19-4" transform="translate(240,997)"><ellipse rx="17.5" ry="21.5" class="n"/><use href="#Rg"/></g>
<g id="n19-5" transform="translate(292,997)"><ellipse rx="17.5" ry="21.5" class="n"/><use href="#Rg"/></g>
<g id="n19-6" transform="translate(344,997)"><ellipse rx="17.5" ry="21.5" class="g"/><use href="#Rk"/></g>
<g id="n19-7" transform="translate(396,997)"><ellipse rx="17.5" ry="21.5" class="g"/><use href="#Rk"/></g>
<g id="n19-8" transform="translate(448,997)"><ellipse rx="17.5" ry="21.5" class="g"/><use href="#Rk"/></g>
<g id="n19-9" transform="translate(500,997)"><ellipse rx="17.5" ry="21.5" class="g"/><use href="#Rk"/></g>
<g id="n19-10" transform="translate(552,997)"><ellipse rx="17.5" ry="21.5" class="g"/><use href="#Rk"/></g>
<g id="n19-11" transform="translate(604,997)"><ellipse rx="17.5" ry="21.5" class="g"/><use href="#Rk"/></g>
<g id="n19-12" transform="translate(656,997)"><ellipse rx="17.5" ry="21.5" class="g"/><use href="#Rk"/></g>
<g id="n19-13" transform="translate(708,997)"><ellipse rx="17.5" ry="21.5" class="g"/><use href="#Rk"/></g>
<g id="n20-1" transform="translate(84,1049)"><ellipse rx="17.5" ry="21.5" class="g"/><use href="#Lk"/></g>
<g id="n20-2" transform="translate(136,1049)"><ellipse rx="17.5" ry="21.5" class="g"/><use href="#Lk"/></g>
<g id="n20-3" transform="translate(188,1049)"><ellipse rx="17.5" ry="21.5" class="m"/><use href="#Lw"/></g>
<g id="n20-4" transform="translate(240,1049)"><ellipse rx="17.5" ry="21.5" class="n"/><use href="#Lg"/></g>
<g id="n20-5" transform="translate(292,1049)"><ellipse rx="17.5" ry="21.5" class="g"/><use href="#Lk"/></g>
<g id="n20-6" transform="translate(344,1049)"><ellipse rx="17.5" ry="21.5" class="g"/><use href="#Lk"/></g>
<g id="n20-7" transform="translate(396,1049)"><ellipse rx="17.5" ry="21.5" class="g"/><use href="#Lk"/></g>
<g id="n20-8" transform="translate(448,1049)"><ellipse rx="17.5" ry="21.5" class="g"/><use href="#Lk"/></g>
<g id="n20-9" transform="translate(500,1049)"><ellipse rx="17.5" ry="21.5" class="g"/><use href="#Lk"/></g>
<g id="n20-10" transform="translate(552,1049)"><ellipse rx="17.5" ry="21.5" class="g"/><use href="#Lk"/></g>
<g id="n20-11" transform="translate(604,1049)"><ellipse rx="17.5" ry="21.5" class="g"/><use href="#Lk"/></g>
<g id="n20-12" transform="translate(656,1049)"><ellipse rx="17.5" ry="21.5" class="g"/><use href="#Lk"/></g>
<g id="n20-13" transform="translate(708,1049)"><ellipse rx="17.5" ry="21.5" class="g"/><use href="#Lk"/></g>
<g id="n21-1" transform="translate(84,1101)"><ellipse rx="17.5" ry="21.5" class="g"/><use href="#Rk"/></g>
<g id="n21-2" transform="translate(136,1101)"><ellipse rx="17.5" ry="21.5" class="g"/><use href="#Rk"/></g>
<g id="n21-3" transform="translate(188,1101)"><ellipse rx="17.5" ry="21.5" class="n"/><use href="#Rg"/></g>
<g id="n21-4" transform="translate(240,1101)"><ellipse rx="17.5" ry="21.5" class="g"/><use href="#Rk"/></g>
<g id="n21-5" transform="translate(292,1101)"><ellipse rx="17.5" ry="21.5" class="g"/><use href="#Rk"/></g>
<g id="n21-6" transform="translate(344,1101)"><ellipse rx="17.5" ry="21.5" class="g"/><use href="#Rk"/></g>
<g id="n21-7" transform="translate(396,1101)"><ellipse rx="17.5" ry="21.5" class="g"/><use href="#Rk"/></g>
<g id="n21-8" transform="translate(448,1101)"><ellipse rx="17.5" ry="21.5" class="g"/><use href="#Rk"/></g>
<g id="n21-9" transform="translate(500,1101)"><ellipse rx="17.5" ry="21.5" class="g"/><use href="#Rk"/></g>
<g id="n21-10" transform="translate(552,1101)"><ellipse rx="17.5" ry="21.5" class="g"/><use href="#Rk"/></g>
<g id="n21-11" transform="translate(604,1101)"><ellipse rx="17.5" ry="21.5" class="g"/><use href="#Rk"/></g>
<g id="n21-12" transform="translate(656,1101)"><ellipse rx="17.5" ry="21.5" class="g"/><use href="#Rk"/></g>
<g id="n21-13" transform="translate(708,1101)"><ellipse rx="17.5" ry="21.5" class="g"/><use href="#Rk"/></g>
<g id="n22-1" transform="translate(84,1153)"><ellipse rx="17.5" ry="21.5" class="g"/><use href="#Lk"/></g>
<g id="n22-2" transform="translate(136,1153)"><ellipse rx="17.5" ry="21.5" class="g"/><use href="#Lk"/></g>
<g id="n22-3" transform="translate(188,1153)"><ellipse rx="17.5" ry="21.5" class="g"/><use href="#Lk"/></g>
<g id="n22-4" transform="translate(240,1153)"><ellipse rx="17.5" ry="21.5" class="g"/><use href="#Lk"/></g>
<g id="n22-5" transform="translate(292,1153)"><ellipse rx="17.5" ry="21.5" class="g"/><use href="#Lk"/></g>
<g id="n22-6" transform="translate(344,1153)"><ellipse rx="17.5" ry="21.5" class="g"/><use href="#Lk"/></g>
<g id="n22-7" transform="translate(396,1153)"><ellipse rx="17.5" ry="21.5" class="g"/><use href="#Lk"/></g>
<g id="n22-8" transform="translate(448,1153)"><ellipse rx="17.5" ry="21.5" class="g"/><use href="#Lk"/></g>
<g id="n22-9" transform="translate(500,1153)"><ellipse rx="17.5" ry="21.5" class="g"/><use href="#Lk"/></g>
<g id="n22-10" transform="translate(552,1153)"><ellipse rx="17.5" ry="21.5" class="g"/><use href="#Lk"/></g>
<g id="n22-11" transform="translate(604,1153)"><ellipse rx="17.5" ry="21.5" class="g"/><use href="#Lk"/></g>
<g id="n22-12" transform="translate(656,1153)"><ellipse rx="17.5" ry="21.5" class="g"/><use href="#Lk"/></g>
<g id="n22-13" transform="translate(708,1153)"><ellipse rx="17.5" ry="21.5" class="g"/><use href="#Lk"/></g>
</g>
<text class="wm" x="396" y="613" text-anchor="middle" textLength="155" lengthAdjust="spacingAndGlyphs">BRACELETBOOK.COM</text>
</svg>
